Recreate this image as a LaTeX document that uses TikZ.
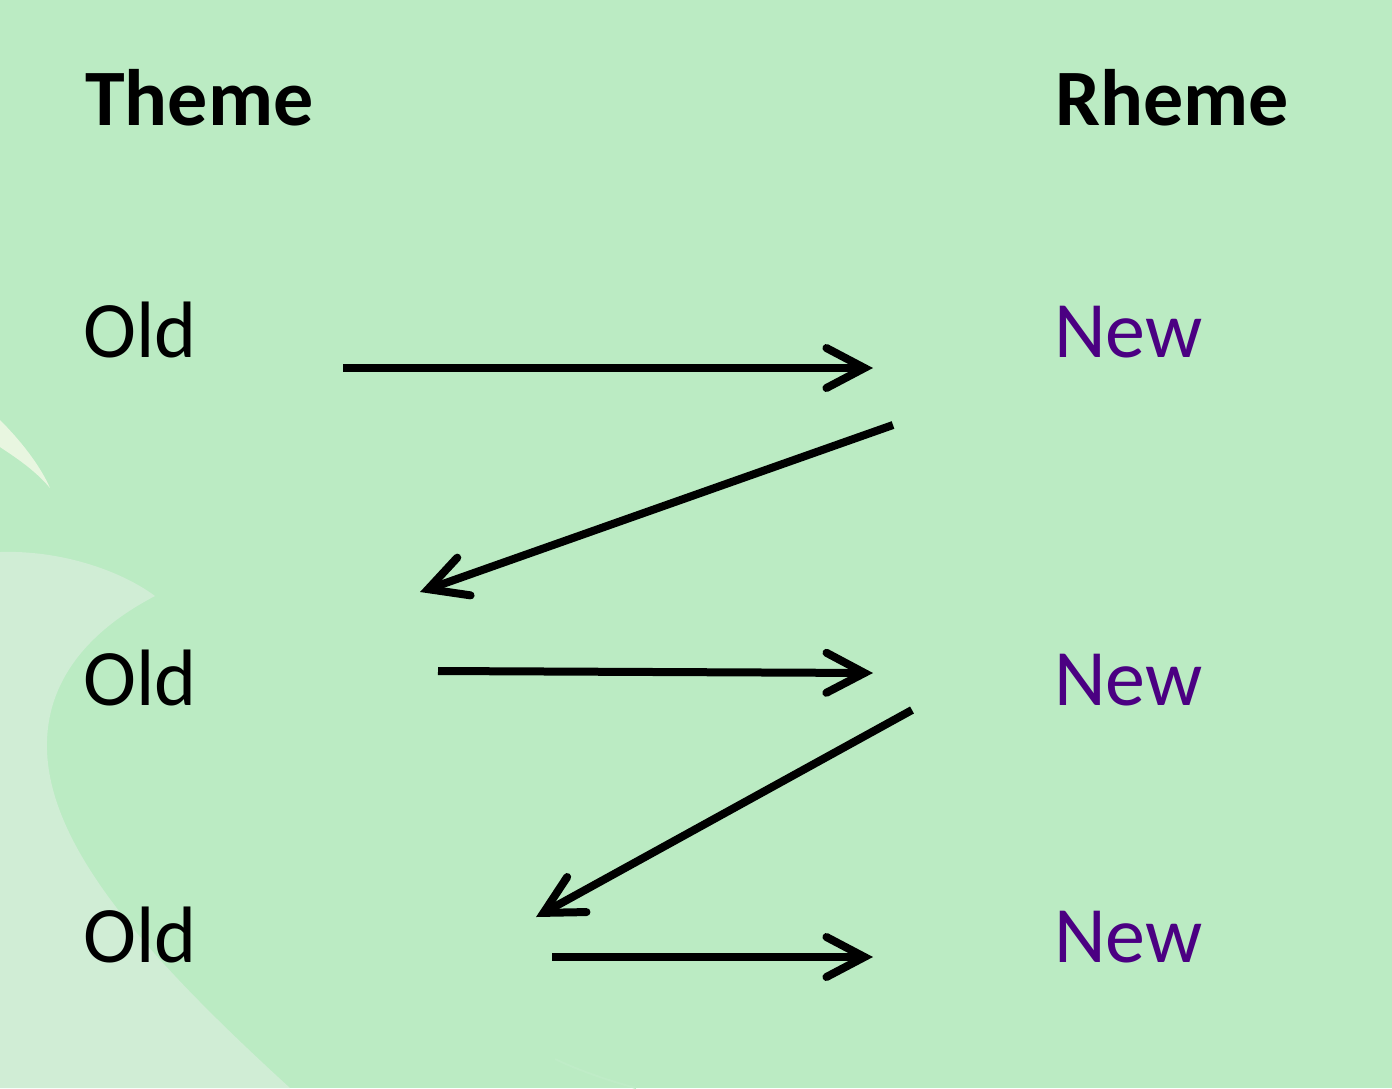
\documentclass[tikz,border=0pt]{standalone}
\usepackage{fontspec}
\setmainfont{Carlito}
\usetikzlibrary{arrows.meta}
\definecolor{bggreen}{HTML}{BBEBC3}
\definecolor{lightgreen}{HTML}{D0EDD5}
\definecolor{sliver}{HTML}{E8F6E0}
\definecolor{faint}{HTML}{BFECC7}
\definecolor{newcol}{HTML}{4B0082}
\tikzset{
  label text/.style={anchor=base west, inner sep=0pt, font=\fontsize{80}{96}\selectfont},
  head text/.style={label text, font=\fontsize{80}{96}\selectfont\bfseries},
  old text/.style={label text, text=black},
  new text/.style={label text, text=newcol},
  flow/.style={line width=8pt, draw=black,
    -{Straight Barb[length=38pt, width=40pt, line cap=round, line join=miter]}},
}
\begin{document}
\begin{tikzpicture}[x=1pt, y=-1pt]
\useasboundingbox (0,0) rectangle (1392,1088);
\fill[bggreen] (0,0) rectangle (1392,1088);
% light background shapes
\fill[lightgreen] (0,552) .. controls (60,550) and (120,570) .. (155,596)
  .. controls (90,630) and (45,680) .. (47,750)
  .. controls (50,850) and (150,960) .. (290,1088) -- (0,1088) -- cycle;
\fill[sliver] (0,420) .. controls (20,440) and (40,465) .. (50,488)
  .. controls (35,470) and (15,457) .. (0,447) -- cycle;
\draw[faint, line width=2pt] (555,1059) .. controls (580,1071) and (610,1081) .. (636,1088);
% headings
\node[head text] (theme) at (85,125) {Theme};
\node[head text] (rheme) at (1055,125) {Rheme};
% rows
\node[old text] (old1) at (83,357) {Old};
\node[old text] (old2) at (83,705) {Old};
\node[old text] (old3) at (83,962) {Old};
\node[new text] (new1) at (1054,357) {New};
\node[new text] (new2) at (1054,705) {New};
\node[new text] (new3) at (1054,962) {New};
% arrow end points
\coordinate (a1s) at (343,368); \coordinate (a1e) at (873,368);
\coordinate (a2s) at (893,425); \coordinate (a2e) at (420,592);
\coordinate (a3s) at (438,671); \coordinate (a3e) at (873,673);
\coordinate (a4s) at (912,710); \coordinate (a4e) at (536,917);
\coordinate (a5s) at (552,957); \coordinate (a5e) at (873,957);
\draw[flow] (a1s) -- (a1e);
\draw[flow] (a2s) -- (a2e);
\draw[flow] (a3s) -- (a3e);
\draw[flow] (a4s) -- (a4e);
\draw[flow] (a5s) -- (a5e);
\end{tikzpicture}
\end{document}
